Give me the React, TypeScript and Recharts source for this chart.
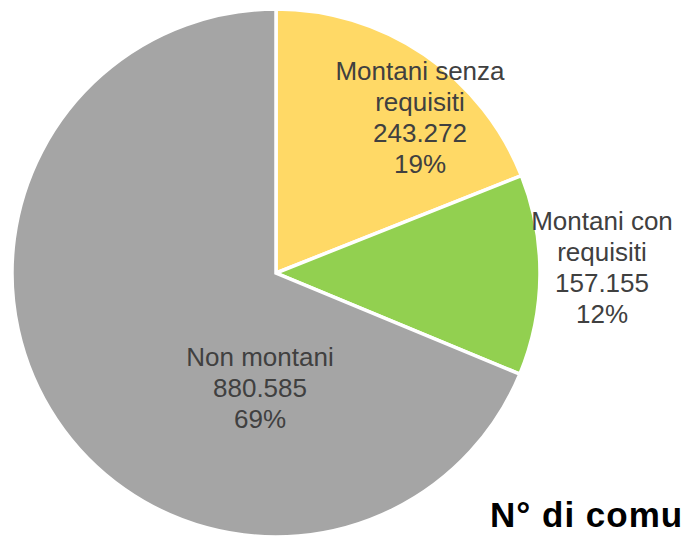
import React from 'react';
import { PieChart, Pie, Cell } from 'recharts';

// Categories and values (Italian formatting shown on labels)
const CATEGORIES = ['Montani senza requisiti', 'Montani con requisiti', 'Non montani'];
const VALUES = [243272, 157155, 880585];
const COLORS = ['#FFD966', '#92D050', '#A5A5A5'];

// label block placement relative to pie center (first baseline)
const LABEL_OFFSETS = [
  { dx: 144, dy: -193 },
  { dx: 326, dy: -43 },
  { dx: -16, dy: 93 },
];

const TITLE = 'N° di comuni';

const W = 682;
const H = 536;
const CX = 276;
const CY = 273;
const R = 264;
const LINE_H = 31;

const data = CATEGORIES.map((name, i) => ({ name, value: VALUES[i] }));

function formatIt(v: number): string {
  return String(v).replace(/\B(?=(\d{3})+(?!\d))/g, '.');
}

function wrapName(name: string): string[] {
  const words = name.split(' ');
  if (words.length <= 2) return [name];
  return [words.slice(0, 2).join(' '), words.slice(2).join(' ')];
}

// eslint-disable-next-line @typescript-eslint/no-explicit-any
const renderLabel = (props: any) => {
  const { cx, cy, index, percent, name, value } = props;
  const off = LABEL_OFFSETS[index];
  const lines = [...wrapName(name), formatIt(value), `${Math.round(percent * 100)}%`];
  const x = cx + off.dx;
  const y0 = cy + off.dy;
  return (
    <text
      key={`lbl-${index}`}
      x={x}
      y={y0}
      textAnchor="middle"
      fill="#404040"
      fontSize={26}
      fontFamily="'Liberation Sans', Arial, sans-serif"
    >
      {lines.map((ln, i) => (
        <tspan key={i} x={x} y={y0 + i * LINE_H}>
          {ln}
        </tspan>
      ))}
    </text>
  );
};

export default function App() {
  return (
    <div style={{ position: 'absolute', left: 0, top: 0, width: W, height: H, background: '#fff', overflow: 'hidden' }}>
      <PieChart width={W} height={H} margin={{ top: 0, right: 0, bottom: 0, left: 0 }}>
        <Pie
          data={data}
          dataKey="value"
          nameKey="name"
          cx={CX}
          cy={CY}
          outerRadius={R}
          startAngle={90}
          endAngle={-270}
          stroke="#ffffff"
          strokeWidth={3.5}
          label={renderLabel}
          labelLine={false}
          isAnimationActive={false}
        >
          {data.map((d, i) => (
            <Cell key={d.name} fill={COLORS[i]} />
          ))}
        </Pie>
        {/* title sits partly outside the canvas in the original export */}
        <text
          x={490}
          y={527}
          fill="#000"
          fontSize={35}
          letterSpacing={1}
          fontWeight="bold"
          fontFamily="'Liberation Sans', Arial, sans-serif"
        >
          {TITLE}
        </text>
      </PieChart>
    </div>
  );
}
